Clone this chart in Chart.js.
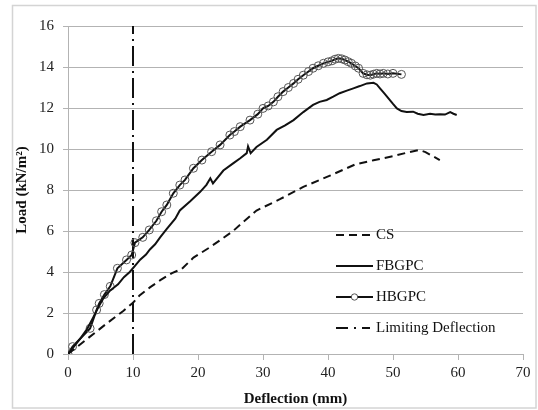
<!DOCTYPE html>
<html>
<head>
<meta charset="utf-8">
<script src="https://cdn.jsdelivr.net/npm/chart.js@4"></script>
<style>
  html, body { margin: 0; padding: 0; background: #fff; }
</style>
</head>
<body>
<canvas id="myChart" width="538" height="410"></canvas>
<script>
// Data
const csX = [0, 3, 6, 8.5, 10, 11, 12.6, 14.2, 16, 17.5, 19.3, 21.8, 23.4, 25.4, 27, 29, 32.6, 36.2, 40.3, 44.2, 47, 50, 52.5, 54, 55, 57.2];
const csY = [0, 0.75, 1.5, 2.1, 2.5, 2.85, 3.25, 3.6, 3.95, 4.15, 4.7, 5.2, 5.55, 6.0, 6.45, 7.0, 7.55, 8.15, 8.7, 9.25, 9.45, 9.65, 9.85, 9.95, 9.85, 9.46];

const fbX = [0, 1, 2, 2.9, 3.9, 4.7, 5.4, 6.5, 7.7, 8.6, 9.5, 10.3, 11.1, 12, 12.6, 13.4, 14.2, 15.2, 16.5, 17.2, 18.8, 20.3, 21.3, 21.9, 22.3, 23.9, 25.4, 26.5, 27.5, 27.7, 28.1, 29, 30.6, 32.1, 33.4, 34.7, 36.2, 37.7, 38.7, 39.8, 40.8, 41.8, 42.9, 43.9, 44.9, 46, 47, 47.5, 48, 48.7, 49.3, 50, 50.6, 51.3, 52.1, 53.1, 53.8, 54.7, 55.7, 56.5, 57.2, 58, 58.8, 59.3, 59.8];
const fbY = [0, 0.4, 0.8, 1.2, 1.8, 2.3, 2.7, 3.1, 3.4, 3.75, 4.0, 4.3, 4.6, 4.85, 5.1, 5.35, 5.7, 6.1, 6.6, 7.0, 7.45, 7.9, 8.25, 8.57, 8.32, 8.95, 9.3, 9.55, 9.8, 10.13, 9.8, 10.1, 10.45, 10.93, 11.15, 11.41, 11.8, 12.15, 12.3, 12.39, 12.55, 12.72, 12.85, 12.96, 13.07, 13.2, 13.23, 13.15, 12.96, 12.7, 12.47, 12.2, 11.98, 11.85, 11.8, 11.82, 11.72, 11.66, 11.72, 11.68, 11.7, 11.68, 11.8, 11.72, 11.66];

const hbX = [0, 0.7, 3.4, 4.4, 4.8, 5.6, 6.5, 7.6, 9, 9.8, 10.3, 11.5, 12.5, 13.6, 14.4, 15.2, 16.2, 17.2, 18, 19.3, 20.6, 22.1, 23.4, 24.9, 25.6, 26.5, 28, 29.2, 30, 30.8, 31.6, 32.3, 33.1, 33.9, 34.7, 35.4, 36.2, 37, 37.7, 38.5, 39.3, 40, 40.6, 41.1, 41.6, 42.1, 42.6, 43.1, 43.6, 44.2, 44.7, 45.4, 46, 46.5, 47, 47.5, 48, 48.5, 49.2, 50, 51.3];
const hbY = [0, 0.36, 1.25, 2.15, 2.47, 2.9, 3.3, 4.18, 4.59, 4.83, 5.43, 5.69, 6.05, 6.5, 6.94, 7.27, 7.84, 8.24, 8.49, 9.06, 9.46, 9.87, 10.2, 10.68, 10.85, 11.09, 11.41, 11.7, 11.98, 12.1, 12.3, 12.55, 12.8, 13.0, 13.2, 13.4, 13.6, 13.78, 13.94, 14.06, 14.18, 14.25, 14.3, 14.38, 14.42, 14.4, 14.34, 14.26, 14.18, 14.05, 13.94, 13.69, 13.62, 13.6, 13.65, 13.69, 13.66, 13.69, 13.66, 13.69, 13.64];

const limitX = [10, 10];
const limitY = [0, 16];

const seriesNames = ['CS', 'FBGPC', 'HBGPC', 'Limiting Deflection'];
const xTicks = [0, 10, 20, 30, 40, 50, 60, 70];
const yTicks = [0, 2, 4, 6, 8, 10, 12, 14, 16];

const toPoints = (xs, ys) => xs.map((x, i) => ({x: x, y: ys[i]}));

const serif = '"Liberation Serif", "Times New Roman", serif';
const gridGray = '#b3b3b3';

// outer frame round the whole chart
const framePlugin = {
    id: 'frame',
    beforeDraw(chart) {
        const c = chart.ctx;
        c.save();
        c.strokeStyle = '#d4d4d4';
        c.lineWidth = 1.5;
        c.strokeRect(12.5, 5.5, 523.5, 402.5);
        c.restore();
    }
};

// legend drawn inside the plot area, like the original
const legendPlugin = {
    id: 'innerLegend',
    afterDraw(chart) {
        const c = chart.ctx;
        const rows = [235, 266, 297, 328];
        const x0 = 336, x1 = 373;
        c.save();
        c.font = '15px ' + serif;
        c.fillStyle = '#111';
        c.textBaseline = 'middle';
        rows.forEach((y, i) => {
            c.strokeStyle = '#111';
            c.lineWidth = 2;
            c.beginPath();
            if (i === 0) c.setLineDash([8, 5]);
            else if (i === 3) c.setLineDash([12, 6, 2, 6, 8, 100]);
            else c.setLineDash([]);
            c.moveTo(x0, y);
            c.lineTo(x1, y);
            c.stroke();
            c.setLineDash([]);
            if (i === 2) {
                c.fillStyle = '#fff';
                c.beginPath();
                c.arc((x0 + x1) / 2, y, 3.2, 0, Math.PI * 2);
                c.fill();
                c.strokeStyle = '#555';
                c.lineWidth = 1;
                c.stroke();
                c.fillStyle = '#111';
            }
            c.fillText(seriesNames[i], x1 + 3, y);
        });
        c.restore();
    }
};

const ctx = document.getElementById('myChart').getContext('2d');

const data = {
    datasets: [
        {
            label: seriesNames[0],
            data: toPoints(csX, csY),
            borderColor: '#111',
            borderWidth: 2,
            borderDash: [8, 5],
            pointRadius: 0,
            fill: false
        },
        {
            label: seriesNames[1],
            data: toPoints(fbX, fbY),
            borderColor: '#111',
            borderWidth: 2,
            pointRadius: 0,
            fill: false
        },
        {
            label: seriesNames[2],
            data: toPoints(hbX, hbY),
            borderColor: '#111',
            borderWidth: 2,
            pointRadius: 4,
            pointStyle: 'circle',
            pointBackgroundColor: 'rgba(0,0,0,0)',
            pointBorderColor: '#555',
            pointBorderWidth: 1,
            fill: false
        },
        {
            label: seriesNames[3],
            data: toPoints(limitX, limitY),
            borderColor: '#111',
            borderWidth: 2,
            borderDash: [20, 5, 2, 5],
            pointRadius: 0,
            fill: false
        }
    ]
};

const config = {
    type: 'line',
    data,
    options: {
        responsive: false,
        animation: false,
        devicePixelRatio: 1,
        layout: { padding: { left: 0, top: 26, right: 15, bottom: 0 } },
        elements: { line: { tension: 0 } },
        plugins: {
            legend: { display: false },
            tooltip: { enabled: false }
        },
        scales: {
            x: {
                type: 'linear',
                min: 0,
                max: 70,
                afterBuildTicks: (s) => { s.ticks = xTicks.map(v => ({value: v})); },
                afterFit: (s) => { s.height = 56; },
                grid: {
                    drawOnChartArea: false,
                    color: gridGray,
                    tickColor: gridGray,
                    tickLength: 6
                },
                border: { display: true, color: gridGray, width: 1 },
                ticks: {
                    color: '#222',
                    padding: 4,
                    maxRotation: 0,
                    font: { family: serif, size: 15 }
                },
                title: {
                    display: true,
                    text: 'Deflection (mm)',
                    color: '#111',
                    padding: { top: 0, bottom: 2 },
                    font: { family: serif, size: 15, weight: 'bold' }
                }
            },
            y: {
                type: 'linear',
                min: 0,
                max: 16,
                afterBuildTicks: (s) => { s.ticks = yTicks.map(v => ({value: v})); },
                afterFit: (s) => { s.width = 68; },
                grid: {
                    color: gridGray,
                    tickColor: gridGray,
                    tickLength: 5
                },
                border: { display: true, color: gridGray, width: 1 },
                ticks: {
                    color: '#222',
                    padding: 9,
                    font: { family: serif, size: 15 }
                },
                title: {
                    display: true,
                    text: 'Load (kN/m²)',
                    color: '#111',
                    padding: { top: 13, bottom: 0 },
                    font: { family: serif, size: 15, weight: 'bold' }
                }
            }
        }
    },
    plugins: [framePlugin, legendPlugin]
};

const myChart = new Chart(ctx, config);
</script>
</body>
</html>
